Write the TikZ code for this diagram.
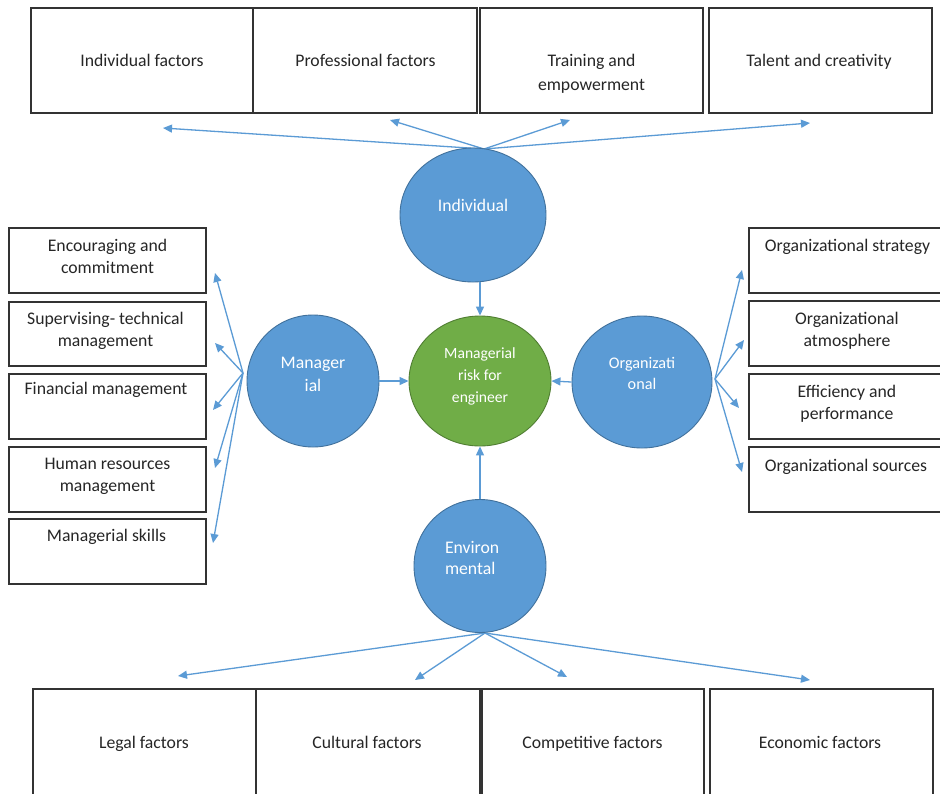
\documentclass[tikz,border=0pt]{standalone}
\usepackage{fontspec}
\setmainfont{Carlito}
\usetikzlibrary{arrows.meta,shapes.geometric}
\definecolor{cblue}{HTML}{5B9BD5}
\definecolor{cblueD}{HTML}{41719C}
\definecolor{cgreen}{HTML}{70AD47}
\definecolor{cgreenD}{HTML}{507E32}
\definecolor{ctext}{HTML}{262626}
\begin{document}
\begin{tikzpicture}[x=1pt,y=-1pt,
  box/.style={draw=black!80, line width=1.4pt, rectangle, inner sep=0pt, outer sep=0pt},
  txt/.style={inner sep=0pt, outer sep=0pt, anchor=base, align=center, text=ctext,
              font=\fontsize{17.7pt}{22pt}\selectfont},
  circ/.style={ellipse, draw=cblueD, line width=0.9pt, fill=cblue, inner sep=0pt},
  ctxt/.style={inner sep=0pt, outer sep=0pt, anchor=base, align=center, text=white,
              font=\fontsize{17.7pt}{23pt}\selectfont},
  arr/.style={draw=cblue, line width=1.3pt, -{Triangle[length=9pt,width=8pt]}}]
\useasboundingbox (0,0) rectangle (940,793);
\fill[white] (0,0) rectangle (940,793);
\clip (0,0) rectangle (940,793);

% ---------- top boxes
\node[box, minimum width=222pt, minimum height=105pt] (t1) at (142,60.5) {};
\node[box, minimum width=224pt, minimum height=105pt] (t2) at (365,60.5) {};
\node[box, minimum width=223pt, minimum height=105pt] (t3) at (591.5,60.5) {};
\node[box, minimum width=223pt, minimum height=105pt] (t4) at (820.5,60.5) {};
\node[txt] (t1t) at (142,66) {Individual factors};
\node[txt] (t2t) at (365.5,66) {Professional factors};
\node[txt, font=\fontsize{17.7pt}{24pt}\selectfont] (t3t) at (591.5,90) {Training and\\empowerment};
\node[txt] (t4t) at (819,66) {Talent and creativity};

% ---------- bottom boxes
\node[box, minimum width=223pt, minimum height=111pt] (b1) at (144.5,744.5) {};
\node[box, minimum width=224pt, minimum height=111pt] (b2) at (368,744.5) {};
\node[box, minimum width=222pt, minimum height=111pt] (b3) at (593,744.5) {};
\node[box, minimum width=223pt, minimum height=111pt] (b4) at (821.5,744.5) {};
\node[txt] (b1t) at (144,748) {Legal factors};
\node[txt] (b2t) at (367,748) {Cultural factors};
\node[txt] (b3t) at (592.5,748) {Competitive factors};
\node[txt] (b4t) at (820,748) {Economic factors};

% ---------- left boxes
\node[box, minimum width=197pt, minimum height=65pt] (l1) at (107.5,260.5) {};
\node[box, minimum width=197pt, minimum height=64pt] (l2) at (107.5,334) {};
\node[box, minimum width=197pt, minimum height=65pt] (l3) at (107.5,406.5) {};
\node[box, minimum width=197pt, minimum height=65pt] (l4) at (107.5,479.5) {};
\node[box, minimum width=197pt, minimum height=65pt] (l5) at (107.5,551.5) {};
\node[txt] (l1t) at (107.5,273.5) {Encouraging and\\commitment};
\node[txt] (l2t) at (105.5,346.5) {Supervising- technical\\management};
\node[txt] (l3t) at (106,394.5) {Financial management};
\node[txt] (l4t) at (107.5,491.5) {Human resources\\management};
\node[txt] (l5t) at (106.5,541.5) {Managerial skills};

% ---------- right boxes
\node[box, minimum width=196pt, minimum height=65pt] (r1) at (847,260.5) {};
\node[box, minimum width=196pt, minimum height=65pt] (r2) at (847,333.5) {};
\node[box, minimum width=196pt, minimum height=65pt] (r3) at (847,406.5) {};
\node[box, minimum width=196pt, minimum height=65pt] (r4) at (847,479.5) {};
\node[txt] (r1t) at (847.5,251.5) {Organizational strategy};
\node[txt] (r2t) at (847,346.5) {Organizational\\atmosphere};
\node[txt] (r3t) at (847,419) {Efficiency and\\performance};
\node[txt] (r4t) at (846,471.5) {Organizational sources};

% ---------- fan-out coordinates
\coordinate (ti) at (484,149);
\coordinate (ta1) at (163,128);
\coordinate (ta2) at (390,120);
\coordinate (ta3) at (570,120);
\coordinate (ta4) at (810,123);
\coordinate (li) at (243,373);
\coordinate (la1) at (215,273);
\coordinate (la2) at (215,343);
\coordinate (la3) at (213,410);
\coordinate (la4) at (215,468);
\coordinate (la5) at (213,543);
\coordinate (ri) at (715,379);
\coordinate (ra1) at (742,270);
\coordinate (ra2) at (744,340);
\coordinate (ra3) at (739,408);
\coordinate (ra4) at (742,472);
\coordinate (bi) at (485,633);
\coordinate (ba1) at (178,676);
\coordinate (ba2) at (415,680);
\coordinate (ba3) at (567,677);
\coordinate (ba4) at (810,680);

\foreach \k in {1,...,4} \draw[arr] (ti) -- (ta\k);
\foreach \k in {1,...,5} \draw[arr] (li) -- (la\k);
\foreach \k in {1,...,4} \draw[arr] (ri) -- (ra\k);
\foreach \k in {1,...,4} \draw[arr] (bi) -- (ba\k);

% ---------- circles
\node[circ, minimum width=146pt, minimum height=134pt] (ind) at (473,215) {};
\node[circ, minimum width=132pt, minimum height=132pt] (man) at (313,381) {};
\node[circ, minimum width=140pt, minimum height=132pt] (org) at (642,382) {};
\node[circ, minimum width=132pt, minimum height=133pt] (env) at (480,566) {};
\node[circ, draw=cgreenD, fill=cgreen, minimum width=142pt, minimum height=130pt] (grn) at (480,381) {};

\node[ctxt] (indt) at (473,211) {Individual};
\node[ctxt] (mant) at (313,391) {Manager\\ial};
\node[ctxt, font=\fontsize{16.2pt}{21pt}\selectfont] (orgt) at (642,389) {Organizati\\onal};
\node[ctxt, anchor=base west, align=left, font=\fontsize{17.7pt}{21pt}\selectfont] (envt) at (445,574) {Environ\\mental};
\node[ctxt, font=\fontsize{15.6pt}{22pt}\selectfont] (grnt) at (480,402) {Managerial\\risk for\\engineer};

% ---------- arrows into the centre
\draw[arr] (grn.north |- ind.south) -- (grn.north);
\draw[arr] (man.east) -- (grn.west);
\draw[arr] (org.west) -- (grn.east);
\draw[arr] (env.north) -- (grn.south);
\end{tikzpicture}
\end{document}
